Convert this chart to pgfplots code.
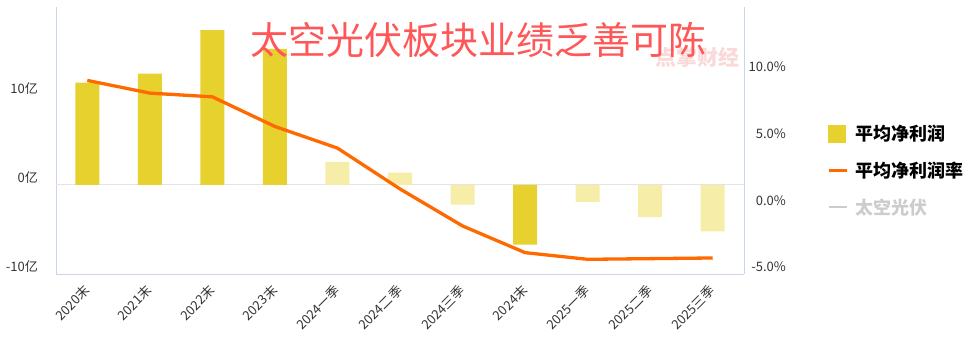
\documentclass[border=0pt]{standalone}
\usepackage{pgfplots}
\pgfplotsset{compat=1.18}
\usepackage{fontspec}
\setmainfont{Noto Sans CJK SC}
\definecolor{bardark}{HTML}{E6D12E}
\definecolor{barlight}{HTML}{F5EDA8}
\definecolor{lineorange}{HTML}{FF6A00}
\definecolor{axisline}{HTML}{CCD6EB}
\definecolor{zeroline}{HTML}{E3E3E8}
\definecolor{ticktext}{HTML}{333333}
\definecolor{titlered}{HTML}{FF5757}
\definecolor{wmark}{HTML}{FAD9D9}
\definecolor{legendgray}{HTML}{CCCCCC}
\begin{document}
\begin{tikzpicture}[x=1pt,y=1pt]
\path[use as bounding box] (0,0) rectangle (968,348);
\node[text=wmark, font=\bfseries\fontsize{21}{21}\selectfont] at (697,291) {点掌财经};
\begin{axis}[
  at={(56pt,74pt)}, anchor=south west,
  width=688pt, height=267pt, scale only axis,
  xmin=-0.5, xmax=10.5, ymin=-10, ymax=20,
  axis x line*=bottom, axis y line*=left,
  axis line style={axisline, line width=1pt, -},
  xtick={0,...,10},
  xticklabels={2020末,2021末,2022末,2023末,2024一季,2024二季,2024三季,2024末,2025一季,2025二季,2025三季},
  ytick={-10,0,10}, yticklabels={-10亿,0亿,10亿},
  major tick length=0pt, tick style={draw=none},
  ticklabel style={font=\fontsize{13}{13}\selectfont, text=ticktext, inner sep=0pt},
  yticklabel style={anchor=east, xshift=-18pt, yshift=7pt},
  xticklabel style={yshift=-14pt, rotate=45, anchor=east},
  ybar, bar width=24pt,
]
\addplot[draw=zeroline, line width=1pt, sharp plot, forget plot] coordinates {(-0.5,0) (10.5,0)};
\addplot[fill=bardark, draw=none, bar shift=0pt] coordinates {(0,11.5) (1,12.5) (2,17.4) (3,15.3) (7,-6.7)};
\addplot[fill=barlight, draw=none, bar shift=0pt] coordinates {(4,2.6) (5,1.4) (6,-2.2) (8,-1.9) (9,-3.6) (10,-5.2)};
\end{axis}
\begin{axis}[
  at={(56pt,74pt)}, anchor=south west,
  width=688pt, height=267pt, scale only axis,
  xmin=-0.5, xmax=10.5, ymin=-5, ymax=15,
  axis x line=none, axis y line*=right,
  axis line style={axisline, line width=1pt, -},
  ytick={-5,0,5,10}, yticklabels={-5.0\%,0.0\%,5.0\%,10.0\%},
  major tick length=0pt, tick style={draw=none},
  ticklabel style={font=\fontsize{13}{13}\selectfont, text=ticktext, inner sep=0pt},
  yticklabel style={anchor=east, xshift=42pt, yshift=7pt},
  legend cell align=left,
  legend style={at={(1.116,0.566)}, anchor=north west, draw=none, fill=none,
    font=\bfseries\fontsize{18}{18}\selectfont, row sep=19.5pt, column sep=7pt,
    nodes={inner sep=0pt}},
]
\addlegendimage{legend image code/.code={\fill[bardark] (0pt,-8.5pt) rectangle (17pt,8.5pt);}}
\addlegendentry{平均净利润}
\addplot[lineorange, line width=3.3pt, line join=round,
  legend image code/.code={\draw[lineorange, line width=3.3pt] (0pt,0pt) -- (18pt,0pt);}]
  coordinates {(0,9.5) (1,8.55) (2,8.27) (3,6.05) (4,4.43) (5,1.37) (6,-1.4) (7,-3.4) (8,-3.9) (9,-3.85) (10,-3.8)};
\addlegendentry{平均净利润率}
\addlegendimage{legend image code/.code={\draw[legendgray, line width=1.5pt] (0pt,0pt) -- (18pt,0pt);}}
\addlegendentry{\textcolor{legendgray}{太空光伏}}
\end{axis}
\node[text=titlered, font=\fontsize{38}{38}\selectfont] at (478,308) {太空光伏板块业绩乏善可陈};
\end{tikzpicture}
\end{document}
